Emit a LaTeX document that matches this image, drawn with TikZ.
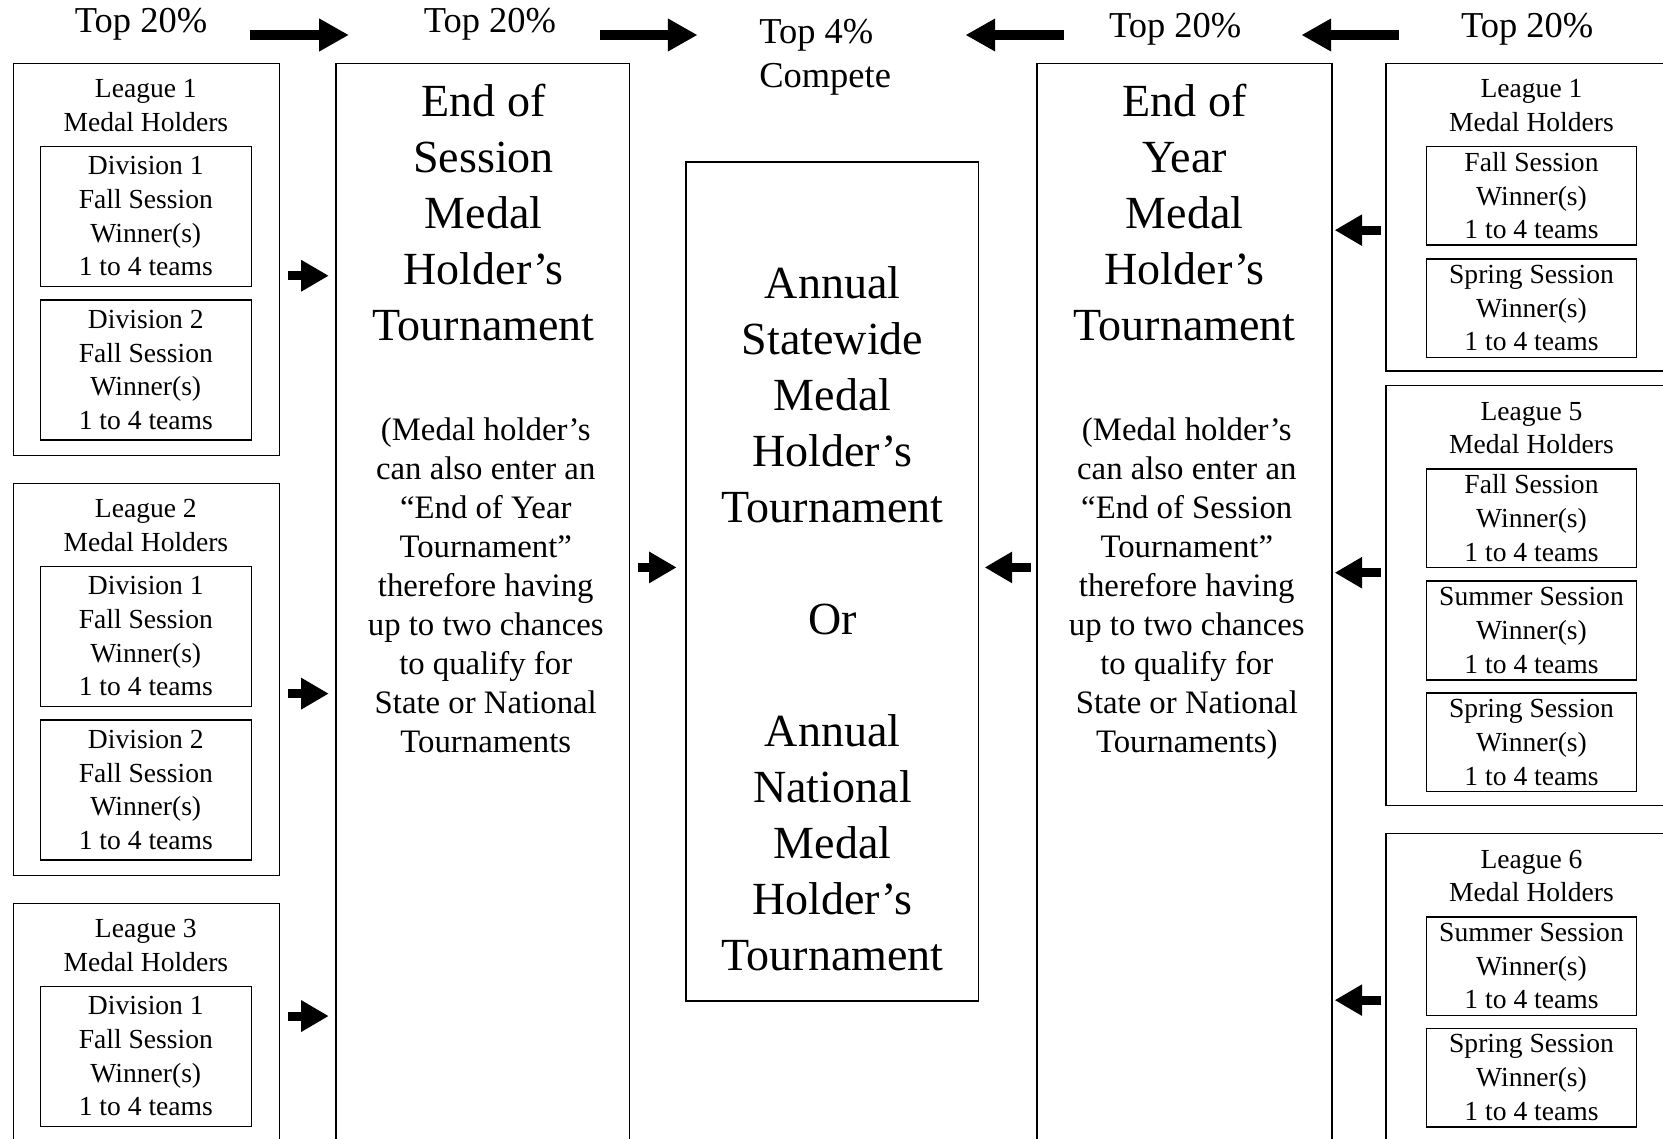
\documentclass[tikz,border=0pt]{standalone}
\usepackage{fontspec}
\setmainfont{Liberation Serif}
\usetikzlibrary{arrows.meta}
\definecolor{boxline}{RGB}{0,0,0}
\definecolor{arrowfill}{RGB}{0,0,0}
\newcommand{\fsBox}{\fontsize{26}{31.7}\selectfont}
\newcommand{\fsBig}{\fontsize{43.4}{52.75}\selectfont}
\newcommand{\fsParen}{\fontsize{30.9}{36.75}\selectfont}
\newcommand{\fsTop}{\fontsize{34.4}{42}\selectfont}
\tikzset{
boxtext/.style={
  align=center,
  font=\fsBox,
  text=black
},
bigtext/.style={
  align=center,
  font=\fsBig,
  text=black
},
parentext/.style={
  align=center,
  font=\fsParen,
  text=black
},
toplabel/.style={
  font=\fsTop,
  inner sep=0pt,
  text=black
},
leaguebox/.style={
  draw=boxline,
  line width=1.4pt,
  anchor=north west,
  inner sep=0pt,
  minimum width=251pt
},
rightbox/.style={
  leaguebox,
  minimum width=276pt
},
colbox/.style={
  leaguebox,
  minimum width=277pt
},
divbox/.style={
  draw=boxline,
  line width=1.4pt,
  inner sep=0pt,
  minimum width=199pt,
  minimum height=132pt,
  boxtext
},
sessbox/.style={
  divbox,
  minimum width=198pt,
  minimum height=93pt
},
sidearrow/.style={
  -{Triangle[length=26pt,width=28pt]},
  line width=8.5pt,
  draw=arrowfill
},
toparrow/.style={
  -{Triangle[length=28pt,width=29pt]},
  line width=8.5pt,
  draw=arrowfill
}
}

\begin{document}
\begin{tikzpicture}[x=1pt, y=-1pt]
  \useasboundingbox (0,0) rectangle (1568,1073);
  \fill[white] (0,0) rectangle (1568,1073);
  \clip (0,0) rectangle (1568,1073);

  % top labels
  \node[toplabel] (t1) at (133,23) {Top 20\%};
  \node[toplabel] (t2) at (462,23) {Top 20\%};
  \node[toplabel, align=left] (t3) at (778,54) {Top 4\%\\Compete};
  \node[toplabel] (t4) at (1108,28) {Top 20\%};
  \node[toplabel] (t5) at (1440,28) {Top 20\%};

  % left column
  \node[leaguebox, minimum height=370pt] (lg1) at (12,59) {};
  \node[boxtext] (lg1t) at (137.5,99.5) {League 1\\Medal Holders};
  \node[divbox] (lg1a) at (137.5,204) {Division 1\\Fall Session\\Winner(s)\\1 to 4 teams};
  \node[divbox] (lg1b) at (137.5,349) {Division 2\\Fall Session\\Winner(s)\\1 to 4 teams};

  \node[leaguebox, minimum height=370pt] (lg2) at (12,455) {};
  \node[boxtext] (lg2t) at (137.5,495.5) {League 2\\Medal Holders};
  \node[divbox] (lg2a) at (137.5,600) {Division 1\\Fall Session\\Winner(s)\\1 to 4 teams};
  \node[divbox] (lg2b) at (137.5,745) {Division 2\\Fall Session\\Winner(s)\\1 to 4 teams};

  \node[leaguebox, minimum height=240pt] (lg3) at (12,851) {};
  \node[boxtext] (lg3t) at (137.5,891.5) {League 3\\Medal Holders};
  \node[divbox] (lg3a) at (137.5,996) {Division 1\\Fall Session\\Winner(s)\\1 to 4 teams};

  % end of session
  \node[colbox, minimum height=1040pt] (eos) at (316,59) {};
  \node[bigtext] (eost) at (456,200.5) {End of\\Session\\Medal\\Holder’s\\Tournament};
  \node[parentext] (eosp) at (458,552) {(Medal holder’s\\can also enter an\\“End of Year\\Tournament”\\therefore having\\up to two chances\\to qualify for\\State or National\\Tournaments};

  % statewide / national
  \node[colbox, minimum width=276pt, minimum height=791pt] (ctr) at (646,152) {};
  \node[bigtext] (ctrt) at (785,583.5) {Annual\\Statewide\\Medal\\Holder’s\\Tournament\\[52.75pt]Or\\[52.75pt]Annual\\National\\Medal\\Holder’s\\Tournament};

  % end of year
  \node[colbox, minimum width=278pt, minimum height=1040pt] (eoy) at (977,59) {};
  \node[bigtext] (eoyt) at (1117,200.5) {End of\\Year\\Medal\\Holder’s\\Tournament};
  \node[parentext] (eoyp) at (1119,555) {(Medal holder’s\\can also enter an\\“End of Session\\Tournament”\\therefore having\\up to two chances\\to qualify for\\State or National\\Tournaments)};

  % right column
  \node[rightbox, minimum height=290pt] (rl1) at (1306,59) {};
  \node[boxtext] (rl1t) at (1444,99.5) {League 1\\Medal Holders};
  \node[sessbox] (rl1a) at (1444,184.5) {Fall Session\\Winner(s)\\1 to 4 teams};
  \node[sessbox] (rl1b) at (1444,290.5) {Spring Session\\Winner(s)\\1 to 4 teams};

  \node[rightbox, minimum height=396pt] (rl5) at (1306,363) {};
  \node[boxtext] (rl5t) at (1444,403.5) {League 5\\Medal Holders};
  \node[sessbox] (rl5a) at (1444,488.5) {Fall Session\\Winner(s)\\1 to 4 teams};
  \node[sessbox] (rl5b) at (1444,594.5) {Summer Session\\Winner(s)\\1 to 4 teams};
  \node[sessbox] (rl5c) at (1444,700) {Spring Session\\Winner(s)\\1 to 4 teams};

  \node[rightbox, minimum height=310pt] (rl6) at (1306,785) {};
  \node[boxtext] (rl6t) at (1444,826) {League 6\\Medal Holders};
  \node[sessbox] (rl6a) at (1444,911) {Summer Session\\Winner(s)\\1 to 4 teams};
  \node[sessbox] (rl6b) at (1444,1016) {Spring Session\\Winner(s)\\1 to 4 teams};

  % top arrows
  \draw[toparrow, shorten <=40.5pt, shorten >=70.5pt] (t1.east |- 0,33) -- (t2.west |- 0,33);
  \draw[toparrow, shorten <=41.5pt, shorten >=58pt] (t2.east |- 0,33) -- (t3.west |- 0,33);
  \draw[toparrow, shorten <=42.5pt, shorten >=70pt] (t4.west |- 0,33) -- (t3.east |- 0,33);
  \draw[toparrow, shorten <=58.5pt, shorten >=56.5pt] (t5.west |- 0,33) -- (t4.east |- 0,33);

  % side arrows
  \draw[sidearrow, shorten <=7pt, shorten >=6pt] (lg1.east |- 0,260) -- (eos.west |- 0,260);
  \draw[sidearrow, shorten <=7pt, shorten >=6pt] (lg2.east |- 0,654) -- (eos.west |- 0,654);
  \draw[sidearrow, shorten <=7pt, shorten >=6pt] (lg3.east |- 0,958) -- (eos.west |- 0,958);
  \draw[sidearrow, shorten <=7pt, shorten >=8pt] (eos.east |- 0,535) -- (ctr.west |- 0,535);
  \draw[sidearrow, shorten <=5pt, shorten >=5pt] (eoy.west |- 0,535) -- (ctr.east |- 0,535);
  \draw[sidearrow, shorten <=4pt, shorten >=2pt] (rl1.west |- 0,217) -- (eoy.east |- 0,217);
  \draw[sidearrow, shorten <=4pt, shorten >=2pt] (rl5.west |- 0,540) -- (eoy.east |- 0,540);
  \draw[sidearrow, shorten <=4pt, shorten >=2pt] (rl6.west |- 0,943) -- (eoy.east |- 0,943);
\end{tikzpicture}
\end{document}
